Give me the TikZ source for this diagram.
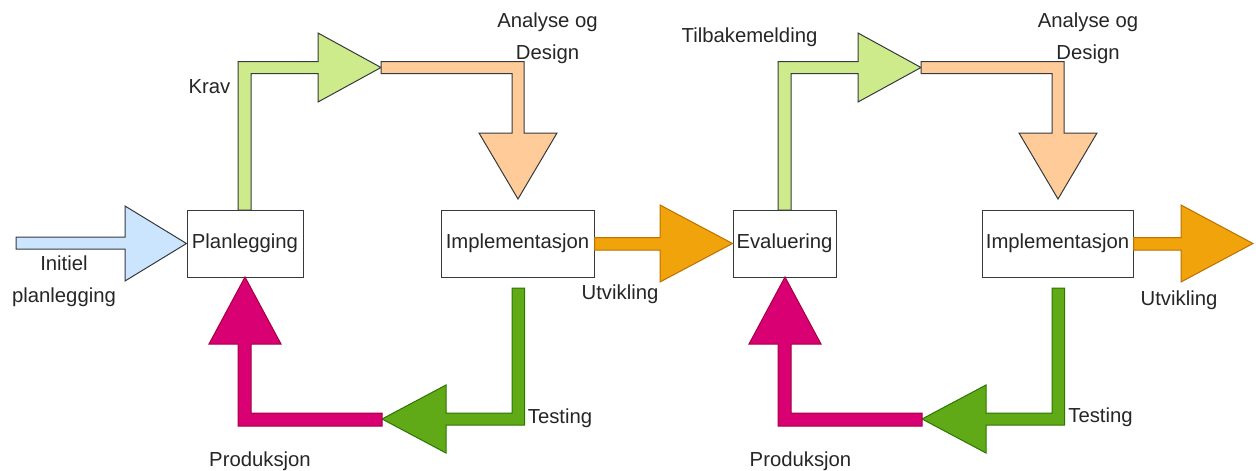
\documentclass[tikz,border=0pt]{standalone}
\usepackage{fontspec}
\setmainfont{Liberation Sans}
\definecolor{lgfill}{HTML}{CDEB8B}
\definecolor{pchfill}{HTML}{FFCC99}
\definecolor{blfill}{HTML}{CCE5FF}
\definecolor{darkline}{HTML}{36393D}
\definecolor{orfill}{HTML}{F0A30A}
\definecolor{orline}{HTML}{BD7000}
\definecolor{dgfill}{HTML}{60A917}
\definecolor{dgline}{HTML}{2D7600}
\definecolor{pkfill}{HTML}{D80073}
\definecolor{pkline}{HTML}{A50040}
\definecolor{txt}{HTML}{262626}
\tikzset{
  lightarrow/.style={fill=lgfill, draw=darkline, line width=1pt, line join=miter},
  peacharrow/.style={fill=pchfill, draw=darkline, line width=1pt, line join=miter},
  bluearrow/.style={fill=blfill, draw=darkline, line width=1pt, line join=miter},
  orangearrow/.style={fill=orfill, draw=orline, line width=1pt, line join=miter},
  greenarrow/.style={fill=dgfill, draw=dgline, line width=1pt, line join=miter},
  pinkarrow/.style={fill=pkfill, draw=pkline, line width=1pt, line join=miter},
  stage/.style={draw=darkline, fill=white, line width=1pt, minimum height=67pt,
    inner sep=0pt, text=txt, font=\fontsize{20.3}{24}\selectfont},
  lbl/.style={inner sep=0pt, text=txt, anchor=base, align=center,
    font=\fontsize{20.3}{31.5}\selectfont},
}
\begin{document}
\begin{tikzpicture}[x=1pt, y=-1pt]
\useasboundingbox[fill=white] (0,0) rectangle (1256,471);

% stage boxes
\node[stage, minimum width=116pt] (plan)  at (245,243.5)   {Planlegging};
\node[stage, minimum width=153pt] (impl1) at (517.5,243.5) {Implementasjon};
\node[stage, minimum width=103pt] (eval)  at (784.5,243.5) {Evaluering};
\node[stage, minimum width=151pt] (impl2) at (1057.5,243.5) {Implementasjon};

% initial planning arrow into the first box
\draw[bluearrow] (16,237) -- (125,237) -- (125,206) -- (plan.west) -- (125,281)
  -- (125,249) -- (16,249) -- cycle;

% two identical feedback loops, the second shifted right
\foreach \dx in {0,540}{
\begin{scope}[xshift=\dx pt]
  % requirements / feedback: up and to the right
  \draw[lightarrow] (238,210) -- (238,61.5) -- (318,61.5) -- (318,33) -- (381,67.5)
    -- (318,102) -- (318,73.5) -- (251,73.5) -- (251,210) -- cycle;
  % analysis and design: right and down
  \draw[peacharrow] (381,61.5) -- (524,61.5) -- (524,133) -- (557,133) -- (518,199)
    -- (479,133) -- (512,133) -- (512,73.5) -- (381,73.5) -- cycle;
  % testing: down and to the left
  \draw[greenarrow] (512,288) -- (524.5,288) -- (524.5,425) -- (446,425) -- (446,453)
    -- (382,419) -- (446,385) -- (446,413) -- (512,413) -- cycle;
  % production: left and up
  \draw[pinkarrow] (382,413) -- (251,413) -- (251,344) -- (281,344) -- (245,277)
    -- (209,344) -- (238,344) -- (238,426) -- (382,426) -- cycle;
\end{scope}
}

% development arrows out of the implementation boxes
\draw[orangearrow] (impl1.east |- 0,237.5) -- (660,237.5) -- (660,205) -- (eval.west)
  -- (660,282) -- (660,250) -- (impl1.east |- 0,250) -- cycle;
\draw[orangearrow] (impl2.east |- 0,237.5) -- (1181,237.5) -- (1181,205) -- (1253,243.5)
  -- (1181,282) -- (1181,250) -- (impl2.east |- 0,250) -- cycle;

% labels (multi-line ones are placed by the baseline of their last line)
\node[lbl] (l-init)  at (64,302)    {Initiel\\planlegging};
\node[lbl] (l-krav)  at (209.5,93)  {Krav};
\node[lbl] (l-ad1)   at (547.5,59)  {Analyse og\\Design};
\node[lbl] (l-tilb)  at (749.5,42.5) {Tilbakemelding};
\node[lbl] (l-ad2)   at (1088,59)   {Analyse og\\Design};
\node[lbl] (l-utv1)  at (620,299)   {Utvikling};
\node[lbl] (l-utv2)  at (1179,305.5) {Utvikling};
\node[lbl] (l-test1) at (560,423)   {Testing};
\node[lbl] (l-test2) at (1100.5,422.5) {Testing};
\node[lbl] (l-prod1) at (260,466.5) {Produksjon};
\node[lbl] (l-prod2) at (800.5,466) {Produksjon};
\end{tikzpicture}
\end{document}
